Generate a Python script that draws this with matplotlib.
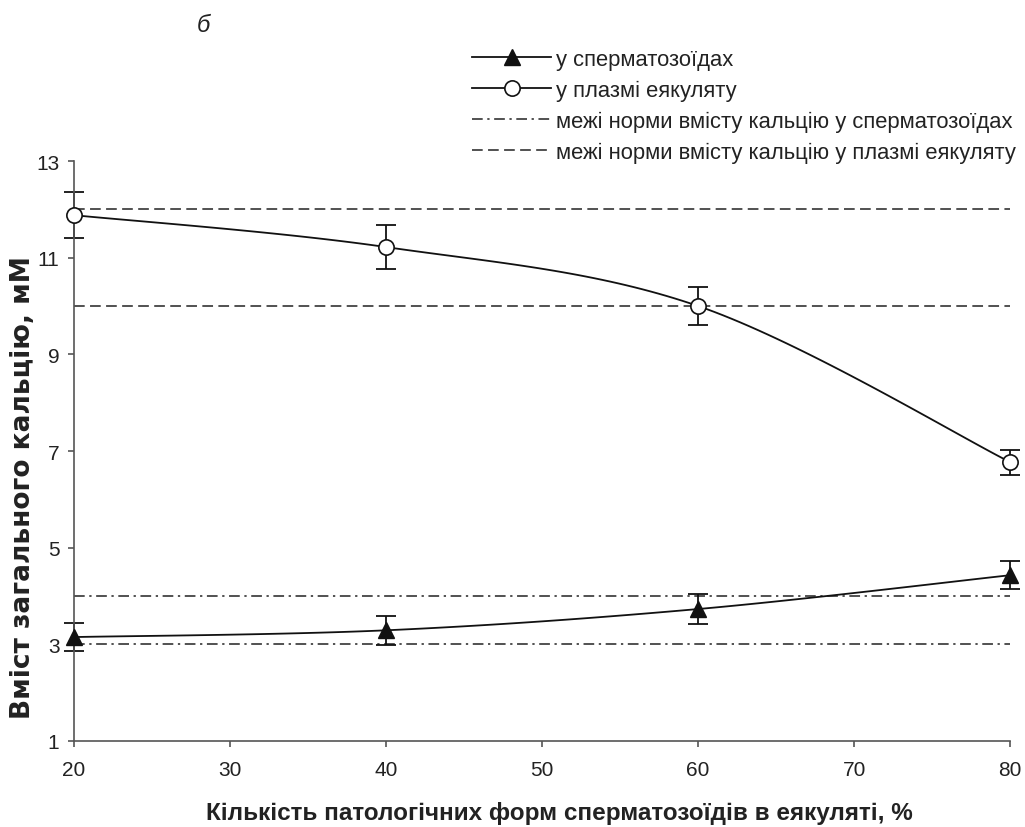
import numpy as np
import matplotlib
matplotlib.use("Agg")
import matplotlib.pyplot as plt
from matplotlib.lines import Line2D

plt.rcParams['font.family'] = ['Liberation Sans', 'DejaVu Sans']

x = [20, 40, 60, 80]
sperm = [3.15, 3.29, 3.73, 4.43]
sperm_err = [0.29, 0.30, 0.31, 0.29]
plasma = [11.88, 11.22, 10.0, 6.77]
plasma_err = [0.47, 0.45, 0.40, 0.26]
sperm_norm = [3, 4]
plasma_norm = [10, 12]

labels = ["у сперматозоїдах",
          "у плазмі еякуляту",
          "межі норми вмісту кальцію у сперматозоїдах",
          "межі норми вмісту кальцію у плазмі еякуляту"]


def smooth(xs, ys, n=40):
    # Excel-like smoothed line: cubic Bezier through points (Catmull-Rom)
    P = np.column_stack([xs, ys]).astype(float)
    P = np.vstack([P[0], P, P[-1]])
    out = []
    for i in range(1, len(P) - 2):
        p0, p1, p2, p3 = P[i - 1], P[i], P[i + 1], P[i + 2]
        c1 = p1 + (p2 - p0) / 6.0
        c2 = p2 - (p3 - p1) / 6.0
        t = np.linspace(0, 1, n)[:, None]
        seg = (1 - t) ** 3 * p1 + 3 * (1 - t) ** 2 * t * c1 + 3 * (1 - t) * t ** 2 * c2 + t ** 3 * p2
        out.append(seg)
    out = np.vstack(out)
    return out[:, 0], out[:, 1]


fig = plt.figure(figsize=(10.25, 8.28), dpi=100)
ax = fig.add_axes([0.0722, 0.1039, 0.9133, 0.7004])

dash = (7, 3.5)
dashdot = (7, 3, 1.5, 3)
ink = '#111111'

for v in sperm_norm:
    ax.plot([20, 80], [v, v], color='#222222', lw=1.1, dashes=dashdot)
for v in plasma_norm:
    ax.plot([20, 80], [v, v], color='#222222', lw=1.1, dashes=dash)

sx, sy = smooth(x, sperm)
ax.plot(sx, sy, color=ink, lw=1.3)
eb = ax.errorbar(x, sperm, yerr=sperm_err, fmt='none', ecolor=ink, elinewidth=1.3, capsize=7, capthick=1.3)
for art in eb.get_children():
    art.set_clip_on(False)
ax.plot(x, sperm, ls='none', marker='^', ms=11, color=ink, zorder=5, clip_on=False)

px, py = smooth(x, plasma)
ax.plot(px, py, color=ink, lw=1.3)
eb = ax.errorbar(x, plasma, yerr=plasma_err, fmt='none', ecolor=ink, elinewidth=1.3, capsize=7, capthick=1.3)
for art in eb.get_children():
    art.set_clip_on(False)
ax.plot(x, plasma, ls='none', marker='o', ms=11, mfc='white', mec=ink, mew=1.2, color=ink, zorder=5, clip_on=False)

ax.set_xlim(20, 80)
ax.set_ylim(1, 13)
ax.set_xticks([20, 30, 40, 50, 60, 70, 80])
ax.set_yticks([1, 3, 5, 7, 9, 11, 13])
ax.tick_params(axis='both', labelsize=15, colors='#555555', labelcolor='#222222', length=4.5, width=1.2, direction='out')
ax.tick_params(axis='x', pad=9)
ax.tick_params(axis='y', pad=6)
for s in ['top', 'right']:
    ax.spines[s].set_visible(False)
for s in ['left', 'bottom']:
    ax.spines[s].set_color('#555555')
    ax.spines[s].set_linewidth(1.2)

ax.set_xlabel("Кількість патологічних форм сперматозоїдів в еякуляті, %", fontsize=17.5, fontweight='bold', color='#222222')
ax.xaxis.set_label_coords(0.519, -0.103)
ax.set_ylabel("Вміст загального кальцію, мМ", fontsize=19, fontweight='bold', color='#222222',
              family=['DejaVu Sans'])
ax.yaxis.set_label_coords(-0.041, 0.438)

fig.text(0.198, 0.969, "б", fontsize=17, style='italic', color='#222222', ha='center', va='center')

handles = [
    Line2D([], [], color=ink, lw=1.3, marker='^', ms=11),
    Line2D([], [], color=ink, lw=1.3, marker='o', ms=11, mfc='white', mew=1.2),
    Line2D([], [], color='#222222', lw=1.1, dashes=dashdot),
    Line2D([], [], color='#222222', lw=1.1, dashes=dash),
]
leg = fig.legend(handles, labels, loc='upper left', bbox_to_anchor=(0.4605, 0.94), frameon=False,
                 fontsize=15.8, handlelength=3.6, handletextpad=0.23, labelspacing=0.45, borderaxespad=0,
                 borderpad=0)
for t in leg.get_texts():
    t.set_color('#222222')

fig.savefig("out.png", dpi=100)
